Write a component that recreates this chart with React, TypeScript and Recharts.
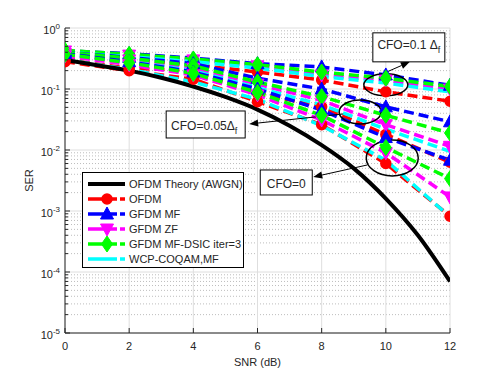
import { CartesianGrid, Legend, Line, LineChart, ReferenceDot, XAxis, YAxis } from 'recharts';

const font = '"Liberation Sans", Arial, Helvetica, sans-serif';
const ink = '#262626';

// SNR points of the simulated curves and the theory curve
const snrPoints = [0, 2, 4, 6, 8, 10, 12];
const theorySnr = [0, 1, 2, 3, 4, 5, 6, 7, 8, 9, 10, 11, 12];
const theorySer = [0.3, 0.245, 0.2, 0.153, 0.11, 0.074, 0.046, 0.025, 0.012, 0.005, 0.0016, 0.0004, 0.00007];

// CFO = 0
const ofdmCfo0 = [0.28, 0.2, 0.145, 0.062, 0.026, 0.006, 0.00082];
const mfCfo0 = [0.38, 0.28, 0.19, 0.1, 0.045, 0.016, 0.0068];
const zfCfo0 = [0.35, 0.25, 0.17, 0.08, 0.031, 0.009, 0.0017];
const dsicCfo0 = [0.37, 0.27, 0.18, 0.088, 0.037, 0.011, 0.0034];
const wcpCfo0 = [0.3, 0.21, 0.13, 0.068, 0.025, 0.0068, 0.0008];

// CFO = 0.05 Δf
const ofdmCfo05 = [0.3, 0.22, 0.2, 0.085, 0.051, 0.018, 0.0063];
const mfCfo05 = [0.4, 0.33, 0.26, 0.15, 0.1, 0.051, 0.029];
const zfCfo05 = [0.38, 0.3, 0.22, 0.12, 0.065, 0.026, 0.0115];
const dsicCfo05 = [0.4, 0.32, 0.24, 0.13, 0.075, 0.037, 0.019];
const wcpCfo05 = [0.36, 0.28, 0.2, 0.105, 0.055, 0.022, 0.0095];

// CFO = 0.1 Δf
const ofdmCfo1 = [0.33, 0.3, 0.25, 0.19, 0.14, 0.09, 0.063];
const mfCfo1 = [0.42, 0.38, 0.32, 0.26, 0.23, 0.17, 0.115];
const zfCfo1 = [0.42, 0.36, 0.3, 0.24, 0.17, 0.14, 0.1];
const dsicCfo1 = [0.43, 0.37, 0.31, 0.25, 0.19, 0.15, 0.11];
const wcpCfo1 = [0.4, 0.34, 0.28, 0.22, 0.16, 0.125, 0.09];

const xTicks = [0, 2, 4, 6, 8, 10, 12];
const yMajor = [1e-5, 1e-4, 1e-3, 1e-2, 1e-1, 1];
const yMinor = [-5, -4, -3, -2, -1].flatMap(e => [2, 3, 4, 5, 6, 7, 8, 9].map(m => m * Math.pow(10, e)));

const legendItems = [
  { name: 'OFDM Theory (AWGN)', color: '#000000', marker: 'none', theory: true },
  { name: 'OFDM', color: '#ff0000', marker: 'circle' },
  { name: 'GFDM MF', color: '#0000ff', marker: 'up' },
  { name: 'GFDM ZF', color: '#ff00ff', marker: 'down' },
  { name: 'GFDM MF-DSIC iter=3', color: '#00ff00', marker: 'diamond' },
  { name: 'WCP-COQAM,MF', color: '#00ffff', marker: 'none' },
];

const rows = (xs, ys) => xs.map((snr, i) => ({ snr, ser: ys[i] }));

function marker(kind, color, cx, cy, key?) {
  if (kind === 'circle') return <circle key={key} cx={cx} cy={cy} r={5} fill={color} stroke={color} strokeWidth={1.5} />;
  if (kind === 'up') return <polygon key={key} points={`${cx},${cy - 7} ${cx - 6.5},${cy + 5} ${cx + 6.5},${cy + 5}`} fill={color} stroke={color} strokeWidth={1} />;
  if (kind === 'down') return <polygon key={key} points={`${cx},${cy + 7} ${cx - 6.5},${cy - 5} ${cx + 6.5},${cy - 5}`} fill={color} stroke={color} strokeWidth={1} />;
  if (kind === 'diamond') return <polygon key={key} points={`${cx},${cy - 8} ${cx + 5.5},${cy} ${cx},${cy + 8} ${cx - 5.5},${cy}`} fill={color} stroke={color} strokeWidth={1} />;
  return <g key={key} />;
}

const dotFor = (kind, color) => (props) => {
  const { cx, cy, index } = props;
  if (cx == null || cy == null || kind === 'none') return <g key={`d${index}`} />;
  return marker(kind, color, cx, cy, `d${index}`);
};

const series = [
  { data: ofdmCfo1, ...legendItems[1] },
  { data: mfCfo1, ...legendItems[2] },
  { data: zfCfo1, ...legendItems[3] },
  { data: dsicCfo1, ...legendItems[4] },
  { data: wcpCfo1, ...legendItems[5] },
  { data: ofdmCfo05, ...legendItems[1] },
  { data: mfCfo05, ...legendItems[2] },
  { data: zfCfo05, ...legendItems[3] },
  { data: dsicCfo05, ...legendItems[4] },
  { data: wcpCfo05, ...legendItems[5] },
  { data: ofdmCfo0, ...legendItems[1] },
  { data: mfCfo0, ...legendItems[2] },
  { data: zfCfo0, ...legendItems[3] },
  { data: dsicCfo0, ...legendItems[4] },
  { data: wcpCfo0, ...legendItems[5] },
];

const XTick = ({ x, y, payload }) => (
  <g>
    <line x1={x} x2={x} y1={y} y2={y - 5} stroke={ink} />
    <text x={x} y={y + 17} textAnchor="middle" fontSize={11} fill={ink} fontFamily={font}>{payload.value}</text>
  </g>
);

const TopTick = ({ x, y }) => <line x1={x} x2={x} y1={y} y2={y + 5} stroke={ink} />;

const isMajor = (v) => Math.abs(Math.log10(v) - Math.round(Math.log10(v))) < 1e-6;

const YTick = ({ x, y, payload }) => {
  const v = payload.value;
  const major = isMajor(v);
  return (
    <g>
      <line x1={x} x2={x + (major ? 5 : 3)} y1={y} y2={y} stroke={ink} />
      {major && (
        <text x={x - 5} y={y + 6} textAnchor="end" fontSize={11} fill={ink} fontFamily={font}>
          10<tspan dy={-5} fontSize={8}>{Math.round(Math.log10(v))}</tspan>
        </text>
      )}
    </g>
  );
};

const RightTick = ({ x, y, payload }) => (
  <line x1={x} x2={x - (isMajor(payload.value) ? 5 : 3)} y1={y} y2={y} stroke={ink} />
);

const Arrow = ({ x1, y1, x2, y2 }) => {
  const a = Math.atan2(y2 - y1, x2 - x1);
  const L = 9, W = 3.5;
  const bx = x2 - L * Math.cos(a), by = y2 - L * Math.sin(a);
  const px = -Math.sin(a) * W, py = Math.cos(a) * W;
  return (
    <g>
      <line x1={x1} y1={y1} x2={bx} y2={by} stroke="#000" strokeWidth={1} />
      <polygon points={`${x2},${y2} ${bx + px},${by + py} ${bx - px},${by - py}`} fill="#000" />
    </g>
  );
};

const AnnTop = ({ cx, cy }) => (
  <g fontFamily={font}>
    <ellipse cx={cx} cy={cy} rx={22} ry={11} fill="none" stroke="#000" strokeWidth={1.5} />
    <Arrow x1={cx - 1} y1={cy - 12} x2={cx + 24} y2={cy - 23} />
    <rect x={cx - 13} y={cy - 52} width={72} height={29} fill="#fff" stroke="#000" />
    <text x={cx + 23} y={cy - 36} textAnchor="middle" fontSize={12} fill={ink}>CFO=0.1 Δ<tspan dy={4} fontSize={9}>f</tspan></text>
  </g>
);

const AnnMid = ({ cx, cy }) => (
  <g fontFamily={font}>
    <ellipse cx={cx} cy={cy} rx={21} ry={12} fill="none" stroke="#000" strokeWidth={1.5} />
    <Arrow x1={cx - 17} y1={cy + 2} x2={cx - 111} y2={cy + 12} />
    <rect x={cx - 194} y={cy - 1} width={79} height={27} fill="#fff" stroke="#000" />
    <text x={cx - 156} y={cy + 18} textAnchor="middle" fontSize={12} fill={ink}>CFO=0.05Δ<tspan dy={4} fontSize={9}>f</tspan></text>
  </g>
);

const AnnLow = ({ cx, cy }) => (
  <g fontFamily={font}>
    <ellipse cx={cx} cy={cy} rx={26} ry={18} fill="none" stroke="#000" strokeWidth={1.5} />
    <Arrow x1={cx - 25} y1={cy + 7} x2={cx - 79} y2={cy + 19} />
    <rect x={cx - 132} y={cy + 12} width={52} height={25} fill="#fff" stroke="#000" />
    <text x={cx - 106} y={cy + 30} textAnchor="middle" fontSize={12} fill={ink}>CFO=0</text>
  </g>
);

const LegendBox = () => (
  <svg width={163} height={97} style={{ display: 'block' }}>
    <rect x={0.5} y={0.5} width={161} height={95} fill="#fff" stroke="#000" />
    {legendItems.map((it, i) => {
      const y = 12 + i * 15;
      return (
        <g key={it.name}>
          {it.theory ? (
            <line x1={6} x2={43} y1={y} y2={y} stroke={it.color} strokeWidth={4} />
          ) : (
            <line x1={6} x2={43} y1={y} y2={y} stroke={it.color} strokeWidth={3.5} strokeDasharray="29 3 6" />
          )}
          {marker(it.marker, it.color, 25, y)}
          <text x={47} y={y + 4} fontSize={11} fill={ink} fontFamily={font}>{it.name}</text>
        </g>
      );
    })}
  </svg>
);

const SerLabel = ({ viewBox }) => {
  const cy = viewBox.y + viewBox.height / 2;
  return (
    <text x={33} y={cy} transform={`rotate(-90, 33, ${cy})`} textAnchor="middle" fontSize={11} fill={ink} fontFamily={font}>SER</text>
  );
};

export default function App() {
  return (
    <div style={{ position: 'absolute', left: 0, top: 0, fontFamily: font }}>
      <LineChart width={498} height={374} margin={{ top: 28, right: 48, bottom: 0, left: 0 }}>
        <CartesianGrid horizontalValues={yMinor} vertical={false} stroke="#bdbdbd" strokeDasharray="1 2" />
        <CartesianGrid horizontalValues={yMajor} verticalValues={xTicks} stroke="#dedede" />
        <XAxis dataKey="snr" type="number" domain={[0, 12]} ticks={xTicks} interval={0} allowDataOverflow
          height={41} tickSize={0} tickMargin={0} stroke={ink} tick={XTick}
          label={{ value: 'SNR (dB)', position: 'insideBottom', offset: 8, fontSize: 11, fill: ink }} />
        <XAxis xAxisId="top" orientation="top" type="number" domain={[0, 12]} ticks={xTicks} interval={0} allowDataOverflow
          height={0} tickSize={0} tickMargin={0} stroke={ink} tick={TopTick} />
        <YAxis scale="log" type="number" domain={[1e-5, 1]} allowDataOverflow ticks={[...yMajor, ...yMinor]} interval={0}
          width={65} tickSize={0} tickMargin={0} stroke={ink} tick={YTick} label={{ value: 'SER', content: SerLabel }} />
        <YAxis yAxisId="right" orientation="right" scale="log" type="number" domain={[1e-5, 1]} allowDataOverflow
          ticks={[...yMajor, ...yMinor]} interval={0} width={0} tickSize={0} tickMargin={0} stroke={ink} tick={RightTick} />
        {series.map((s, i) => (
          <Line key={i} data={rows(snrPoints, s.data)} dataKey="ser" type="linear" stroke={s.color}
            strokeWidth={3.5} strokeDasharray="10 5" dot={dotFor(s.marker, s.color)} activeDot={false}
            isAnimationActive={false} legendType="none" />
        ))}
        <Line data={rows(theorySnr, theorySer)} dataKey="ser" type="monotone" stroke="#000" strokeWidth={4}
          dot={false} activeDot={false} isAnimationActive={false} />
        <ReferenceDot x={10} y={0.117} r={0} shape={AnnTop} />
        <ReferenceDot x={9.2} y={0.042} r={0} shape={AnnMid} />
        <ReferenceDot x={10.2} y={0.0074} r={0} shape={AnnLow} />
        <Legend layout="vertical" align="center" verticalAlign="middle" content={LegendBox}
          wrapperStyle={{ left: 82, top: 172, width: 163, height: 97 }} />
      </LineChart>
    </div>
  );
}
